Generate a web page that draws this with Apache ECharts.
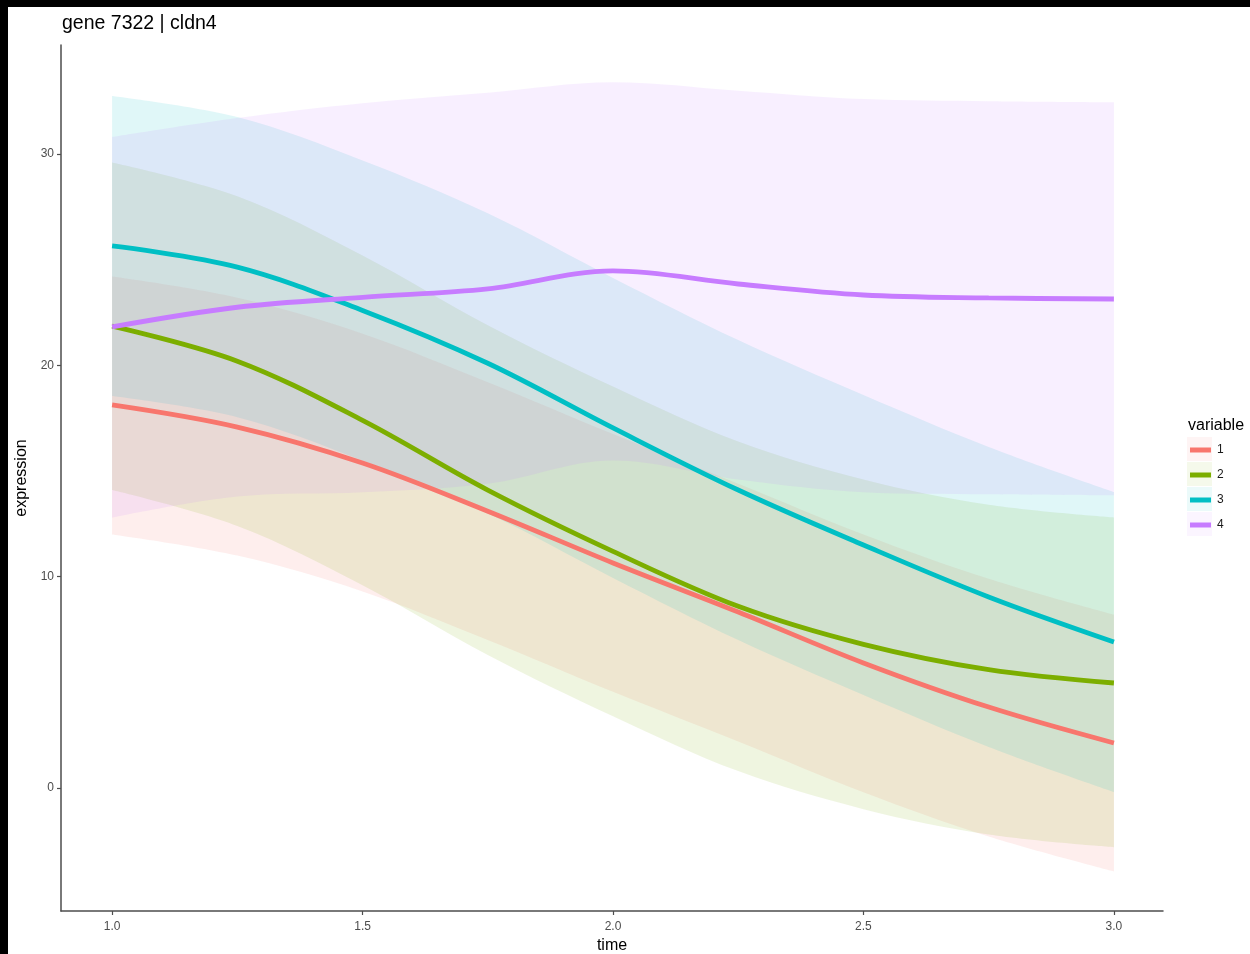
<!DOCTYPE html>
<html>
<head>
<meta charset="utf-8">
<script src="https://cdn.jsdelivr.net/npm/echarts@6/dist/echarts.min.js"></script>
<style>
  html, body { margin: 0; padding: 0; background: #000; }
  #chart { position: absolute; left: 8px; top: 7px; width: 1242px; height: 947px; background: #fff; }
</style>
</head>
<body>
<div id="chart"></div>
<script>
// Smoothed expression over time, one curve and confidence ribbon per variable
const time = [1.0, 1.25, 1.5, 1.75, 2.0, 2.25, 2.5, 2.75, 3.0];

const groups = ['1', '2', '3', '4'];
const colors = ['#F8766D', '#7CAE00', '#00BFC4', '#C77CFF'];

const fit1 = [18.13, 17.08, 15.38, 13.10, 10.65, 8.33, 5.92, 3.83, 2.13];
const low1 = [12.00, 11.00, 9.30, 7.00, 4.55, 2.20, -0.20, -2.30, -3.95];
const high1 = [24.20, 23.20, 21.50, 19.20, 16.75, 14.40, 12.00, 9.90, 8.20];

const fit2 = [21.86, 20.20, 17.40, 14.10, 11.20, 8.60, 6.80, 5.60, 4.97];
const low2 = [14.10, 12.40, 9.60, 6.30, 3.40, 0.80, -1.00, -2.20, -2.80];
const high2 = [29.60, 28.00, 25.20, 21.90, 19.00, 16.40, 14.60, 13.40, 12.80];

const fit3 = [25.65, 24.65, 22.60, 20.10, 17.04, 14.10, 11.50, 9.04, 6.91];
const low3 = [18.55, 17.55, 15.50, 13.00, 9.94, 7.00, 4.40, 1.94, -0.19];
const high3 = [32.75, 31.75, 29.70, 27.20, 24.14, 21.20, 18.60, 16.14, 14.01];

const fit4 = [21.82, 22.75, 23.22, 23.62, 24.47, 23.85, 23.33, 23.19, 23.14];
const low4 = [12.80, 13.80, 14.00, 14.40, 15.50, 14.60, 14.00, 13.90, 13.85];
const high4 = [30.80, 31.70, 32.40, 32.90, 33.40, 33.00, 32.60, 32.50, 32.45];

const xTicks = [1.0, 1.5, 2.0, 2.5, 3.0];
const yTicks = [0, 10, 20, 30];

const fits = [fit1, fit2, fit3, fit4];
const lows = [low1, low2, low3, low4];
const highs = [high1, high2, high3, high4];

function hexToRgba(hex, a) {
  const n = parseInt(hex.slice(1), 16);
  return 'rgba(' + ((n >> 16) & 255) + ',' + ((n >> 8) & 255) + ',' + (n & 255) + ',' + a + ')';
}

const SMOOTH = 0.35;
const series = [];
groups.forEach(function (g, i) {
  const stackId = 'ribbon' + g;
  // ribbon rows are [value, time] so the value column is the one that stacks
  series.push({
    type: 'line', name: 'lo' + g, stack: stackId, stackStrategy: 'all', smooth: SMOOTH,
    showSymbol: false, silent: true,
    encode: { x: 1, y: 0 },
    lineStyle: { opacity: 0 },
    data: time.map(function (t, k) { return [lows[i][k], t]; })
  });
  series.push({
    type: 'line', name: 'band' + g, stack: stackId, stackStrategy: 'all', smooth: SMOOTH,
    showSymbol: false, silent: true,
    encode: { x: 1, y: 0 },
    lineStyle: { opacity: 0 },
    areaStyle: { color: hexToRgba(colors[i], 0.12), opacity: 1 },
    data: time.map(function (t, k) { return [highs[i][k] - lows[i][k], t]; })
  });
  // fitted curve
  series.push({
    type: 'line', name: g, smooth: SMOOTH, showSymbol: false,
    color: colors[i],
    lineStyle: { width: 4.8, color: colors[i] },
    data: time.map(function (t, k) { return [t, fits[i][k]]; })
  });
});

const axisColor = '#4d4d4d';
const font = 'Liberation Sans, Arial, Helvetica, sans-serif';

const keyGraphics = groups.map(function (g, i) {
  return {
    type: 'rect',
    shape: { x: 1179, y: 430 + i * 25, width: 25, height: 24 },
    style: { fill: hexToRgba(colors[i], 0.08) },
    z: -1
  };
});

const chart = echarts.init(document.getElementById('chart'), null, { renderer: 'canvas' });
chart.setOption({
  animation: false,
  backgroundColor: '#ffffff',
  title: [{
    text: 'gene 7322 | cldn4',
    left: 49, top: 2,
    textStyle: { fontFamily: font, fontSize: 19.5, fontWeight: 'normal', color: '#000' }
  }, {
    text: 'variable',
    left: 1175, top: 406,
    textStyle: { fontFamily: font, fontSize: 16, fontWeight: 'normal', color: '#000' }
  }],
  legend: {
    data: groups,
    orient: 'vertical',
    left: 1177, top: 431,
    icon: 'rect',
    itemWidth: 21, itemHeight: 5,
    itemGap: 11,
    textStyle: { fontFamily: font, fontSize: 12, color: '#1a1a1a', lineHeight: 14, padding: [0, 0, 0, 1] },
    selectedMode: false
  },
  graphic: keyGraphics,
  grid: { left: 53, right: 87, top: 38, bottom: 43, containLabel: false, outerBoundsMode: 'none' },
  xAxis: {
    type: 'value',
    min: 0.898, max: 3.098,
    name: 'time', nameLocation: 'middle', nameGap: 27,
    nameTextStyle: { fontFamily: font, fontSize: 16, color: '#000' },
    axisLine: { show: true, onZero: false, lineStyle: { color: axisColor, width: 1.5 } },
    axisTick: { show: true, length: 4, lineStyle: { color: axisColor, width: 1.2 }, customValues: xTicks },
    axisLabel: { fontFamily: font, fontSize: 12, color: '#4d4d4d', margin: 10, customValues: xTicks,
      formatter: function (v) { return v.toFixed(1); } },
    splitLine: { show: false }
  },
  yAxis: {
    type: 'value',
    min: -5.82, max: 35.16,
    name: 'expression', nameLocation: 'middle', nameGap: 29,
    nameTextStyle: { fontFamily: font, fontSize: 16, color: '#000' },
    axisLine: { show: true, onZero: false, lineStyle: { color: axisColor, width: 1.5 } },
    axisTick: { show: true, length: 4, lineStyle: { color: axisColor, width: 1.2 }, customValues: yTicks },
    axisLabel: { fontFamily: font, fontSize: 12, color: '#4d4d4d', margin: 7, customValues: yTicks },
    splitLine: { show: false }
  },
  series: series
});
</script>
</body>
</html>
